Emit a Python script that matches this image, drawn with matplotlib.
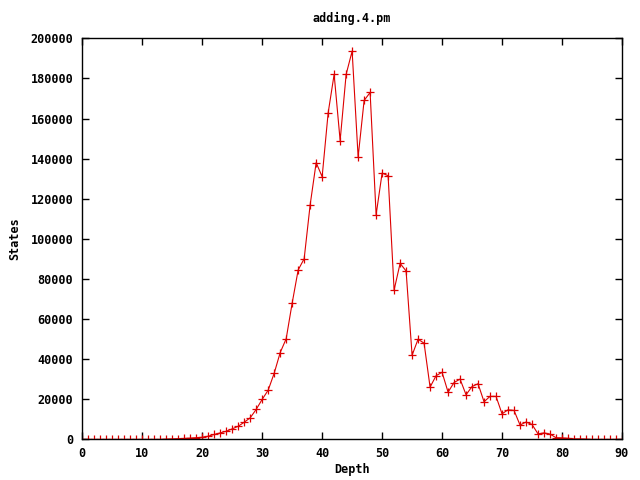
import numpy as np
import matplotlib
matplotlib.use("Agg")
import matplotlib.pyplot as plt

plt.rcParams['font.family'] = ['DejaVu Sans Mono']
plt.rcParams['font.weight'] = 'bold'

# states per depth
depth = list(range(0, 91))
states = [0, 0, 0, 0, 0, 0, 0, 0, 0, 0,
          0, 0, 0, 0, 200, 300, 400, 500, 700, 900,
          1100, 1650, 2500, 3300, 4100, 5300, 6600, 8600, 10800, 15000,
          20000, 24600, 33000, 43300, 50200, 68000, 84500, 90100, 117000, 138000,
          131000, 162800, 182000, 149000, 182000, 193600, 140800, 169000, 173000, 112000,
          132800, 131500, 74500, 87800, 84000, 42000, 50000, 48000, 26100, 31800,
          33500, 23600, 28400, 30100, 22300, 26400, 27800, 18800, 21500, 21500,
          12800, 14800, 14500, 7200, 8700, 7500, 2800, 3300, 2700, 900,
          800, 600, 300, 300, 200, 0, 0, 0, 0, 0, 0]

fig = plt.figure(figsize=(6.4, 4.8), dpi=100)
ax = fig.add_axes([0.1286, 0.0844, 0.8432, 0.8358])

ax.plot(depth, states, color='#dd0000', lw=0.8, marker='+', ms=6, mew=0.9)

ax.set_xlim(0, 90)
ax.set_ylim(0, 200000)
ax.set_xticks(range(0, 91, 10))
ax.set_yticks(range(0, 200001, 20000))
ax.tick_params(direction='in', top=True, right=True, length=5, width=1,
               labelsize=8.5)
ax.tick_params(axis='x', pad=5.5)
ax.tick_params(axis='y', pad=6.5)
for s in ax.spines.values():
    s.set_linewidth(1)

ax.set_title("adding.4.pm", fontsize=8.5, fontweight='bold', pad=12)
ax.set_xlabel("Depth", fontsize=8.5, fontweight='bold', labelpad=2)
ax.set_ylabel("States", fontsize=8.5, fontweight='bold', labelpad=7)

fig.savefig("out.png", dpi=100)
